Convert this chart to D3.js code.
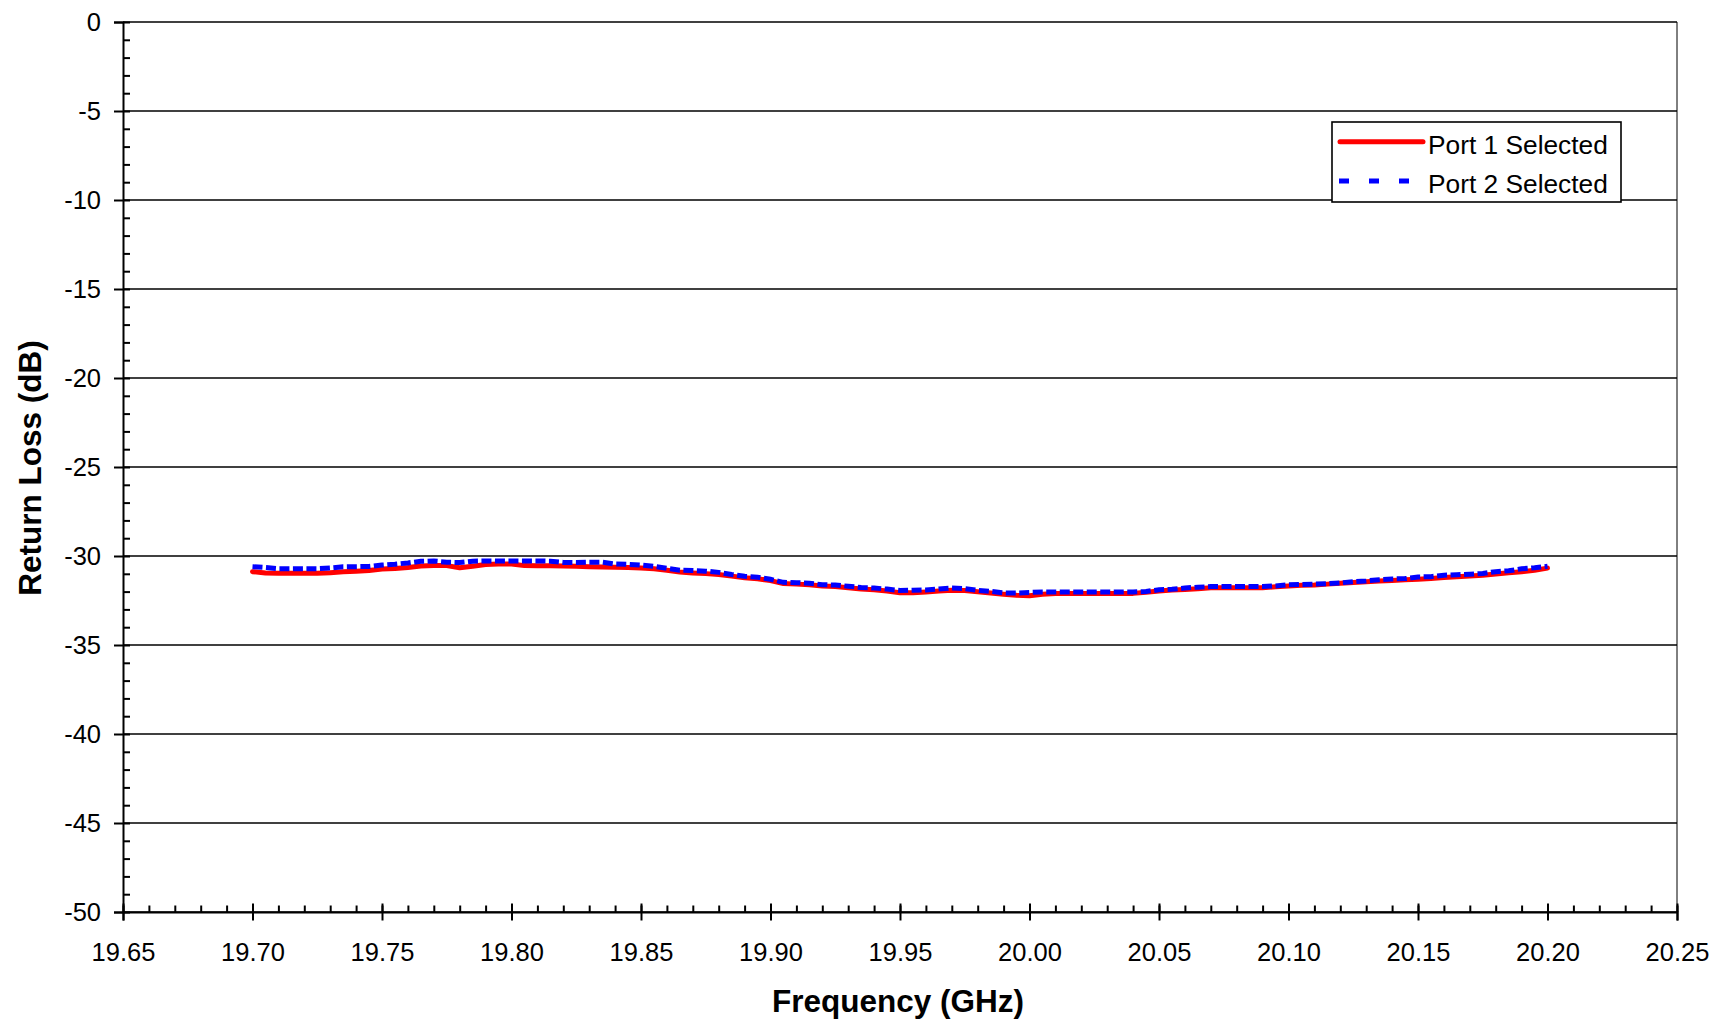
<!DOCTYPE html>
<html>
<head>
<meta charset="utf-8">
<script src="https://cdn.jsdelivr.net/npm/d3@7"></script>
<style>
  body { margin: 0; background: #fff; }
  svg { display: block; font-family: Arial, "Liberation Sans", sans-serif; }
</style>
</head>
<body>
<div id="chart"></div>
<script>
"use strict";

// == DATA ==
var freq = [19.700, 19.705, 19.710, 19.715, 19.720, 19.725, 19.730, 19.735, 19.740, 19.745,
            19.750, 19.755, 19.760, 19.765, 19.770, 19.775, 19.780, 19.785, 19.790, 19.795,
            19.800, 19.805, 19.810, 19.815, 19.820, 19.825, 19.830, 19.835, 19.840, 19.845,
            19.850, 19.855, 19.860, 19.865, 19.870, 19.875, 19.880, 19.885, 19.890, 19.895,
            19.900, 19.905, 19.910, 19.915, 19.920, 19.925, 19.930, 19.935, 19.940, 19.945,
            19.950, 19.955, 19.960, 19.965, 19.970, 19.975, 19.980, 19.985, 19.990, 19.995,
            20.000, 20.005, 20.010, 20.015, 20.020, 20.025, 20.030, 20.035, 20.040, 20.045,
            20.050, 20.055, 20.060, 20.065, 20.070, 20.075, 20.080, 20.085, 20.090, 20.095,
            20.100, 20.105, 20.110, 20.115, 20.120, 20.125, 20.130, 20.135, 20.140, 20.145,
            20.150, 20.155, 20.160, 20.165, 20.170, 20.175, 20.180, 20.185, 20.190, 20.195,
            20.200];

var port1 = [-30.88, -30.95, -30.97, -30.97, -30.97, -30.97, -30.94, -30.88, -30.85, -30.82,
             -30.73, -30.70, -30.64, -30.56, -30.54, -30.54, -30.66, -30.57, -30.48, -30.45,
             -30.45, -30.54, -30.55, -30.55, -30.56, -30.58, -30.60, -30.62, -30.63, -30.64,
             -30.67, -30.72, -30.80, -30.90, -30.95, -30.99, -31.04, -31.13, -31.22, -31.28,
             -31.38, -31.55, -31.58, -31.62, -31.68, -31.72, -31.78, -31.85, -31.90, -31.97,
             -32.06, -32.07, -32.02, -31.96, -31.92, -31.94, -32.01, -32.08, -32.15, -32.21,
             -32.23, -32.15, -32.11, -32.11, -32.11, -32.11, -32.11, -32.11, -32.10, -32.04,
             -31.97, -31.91, -31.88, -31.84, -31.78, -31.78, -31.78, -31.78, -31.78, -31.73,
             -31.68, -31.65, -31.63, -31.58, -31.53, -31.49, -31.45, -31.40, -31.37, -31.34,
             -31.30, -31.26, -31.21, -31.17, -31.12, -31.08, -31.01, -30.94, -30.88, -30.80,
             -30.68];

var port2 = [-30.60, -30.65, -30.71, -30.71, -30.71, -30.71, -30.67, -30.61, -30.60, -30.59,
             -30.51, -30.46, -30.39, -30.30, -30.28, -30.35, -30.37, -30.29, -30.28, -30.28,
             -30.28, -30.28, -30.28, -30.29, -30.36, -30.37, -30.35, -30.35, -30.45, -30.47,
             -30.51, -30.58, -30.69, -30.80, -30.82, -30.85, -30.92, -31.04, -31.14, -31.19,
             -31.31, -31.48, -31.50, -31.53, -31.61, -31.63, -31.70, -31.77, -31.80, -31.86,
             -31.94, -31.92, -31.91, -31.85, -31.80, -31.83, -31.93, -31.99, -32.07, -32.08,
             -32.05, -32.02, -32.02, -32.02, -32.02, -32.02, -32.02, -32.02, -32.02, -31.99,
             -31.90, -31.87, -31.80, -31.75, -31.72, -31.72, -31.72, -31.72, -31.72, -31.68,
             -31.62, -31.60, -31.58, -31.55, -31.51, -31.44, -31.40, -31.33, -31.29, -31.27,
             -31.18, -31.16, -31.08, -31.05, -31.02, -30.98, -30.88, -30.83, -30.72, -30.66,
             -30.58];

var seriesNames = ["Port 1 Selected", "Port 2 Selected"];
var xTicks = [19.65, 19.70, 19.75, 19.80, 19.85, 19.90, 19.95, 20.00, 20.05, 20.10, 20.15, 20.20, 20.25];
var yTicks = [0, -5, -10, -15, -20, -25, -30, -35, -40, -45, -50];

// == BOILERPLATE ==
var W = 1713, H = 1020;
var margin = { top: 22, right: 36, bottom: 108, left: 123 },
    width = W - margin.left - margin.right,
    height = H - margin.top - margin.bottom;

var svg = d3.select("#chart")
            .append("svg")
            .attr("width", W)
            .attr("height", H);

var g = svg.append("g")
           .attr("transform", "translate(" + margin.left + "," + margin.top + ")");

var x = d3.scaleLinear().domain([19.65, 20.25]).range([0, width]);
var y = d3.scaleLinear().domain([-50, 0]).range([height, 0]);

// gridlines at the major y ticks
g.selectAll(".grid")
 .data(yTicks)
 .enter()
 .append("line")
 .attr("x1", 0)
 .attr("x2", width)
 .attr("y1", function(d){ return y(d); })
 .attr("y2", function(d){ return y(d); })
 .attr("stroke", "#000")
 .attr("stroke-width", 1.4);

// right border
g.append("line")
 .attr("x1", width).attr("x2", width)
 .attr("y1", 0).attr("y2", height)
 .attr("stroke", "#000")
 .attr("stroke-width", 1);

// minor ticks: every 1 dB inside, every 0.01 GHz inside
var yMinor = d3.range(-50, 0.5, 1);
var xMinor = d3.range(0, 61).map(function(i){ return 19.65 + i * 0.01; });

var yMinorAxis = d3.axisRight(y).tickValues(yMinor).tickSize(7).tickFormat("");
var xMinorAxis = d3.axisTop(x).tickValues(xMinor).tickSize(6.5).tickFormat("");

g.append("g").attr("class", "minor").call(yMinorAxis);
g.append("g").attr("class", "minor").attr("transform", "translate(0," + height + ")").call(xMinorAxis);

// major axes
var yAxis = d3.axisLeft(y).tickValues(yTicks).tickSize(9).tickPadding(13)
              .tickFormat(function(d){ return d3.format("d")(d).replace("\u2212", "-"); });
var xAxis = d3.axisBottom(x).tickValues(xTicks).tickSize(8.5).tickPadding(22)
              .tickFormat(d3.format(".2f"));

var gy = g.append("g").call(yAxis);
var gx = g.append("g").attr("transform", "translate(0," + height + ")").call(xAxis);

// major x ticks cross the axis
gx.selectAll(".tick line").attr("y1", -8.5);

svg.selectAll(".domain").attr("stroke", "#000").attr("stroke-width", 2);
svg.selectAll(".minor .domain").remove();
svg.selectAll(".tick line").attr("stroke", "#000").attr("stroke-width", 2);
svg.selectAll(".tick text")
   .attr("fill", "#000")
   .style("font-size", "25.5px")
   .style("font-family", "Arial, 'Liberation Sans', sans-serif");

// == LINES ==
var line1 = d3.line()
              .x(function(d, i){ return x(freq[i]); })
              .y(function(d){ return y(d); });

g.append("path")
 .datum(port1)
 .attr("d", line1)
 .attr("fill", "none")
 .attr("stroke", "#ff0000")
 .attr("stroke-width", 5)
 .attr("stroke-linejoin", "round")
 .attr("stroke-linecap", "round");

g.append("path")
 .datum(port2)
 .attr("d", line1)
 .attr("fill", "none")
 .attr("stroke", "#0000ff")
 .attr("stroke-width", 5)
 .attr("stroke-dasharray", "10,3.5")
 .attr("stroke-linejoin", "miter");

// == AXIS TITLES ==
svg.append("text")
   .attr("x", margin.left + width / 2 - 2)
   .attr("y", 1012)
   .attr("text-anchor", "middle")
   .style("font-size", "31.5px")
   .style("font-weight", "bold")
   .text("Frequency (GHz)");

svg.append("text")
   .attr("transform", "translate(41," + (margin.top + height / 2 + 1) + ") rotate(-90)")
   .attr("text-anchor", "middle")
   .style("font-size", "31.5px")
   .style("font-weight", "bold")
   .text("Return Loss (dB)");

// == LEGEND ==
var legend = svg.append("g").attr("transform", "translate(1332,122)");
legend.append("rect")
      .attr("width", 289)
      .attr("height", 80)
      .attr("fill", "#fff")
      .attr("stroke", "#000")
      .attr("stroke-width", 1.6);

legend.append("line")
      .attr("x1", 8).attr("x2", 91)
      .attr("y1", 19.7).attr("y2", 19.7)
      .attr("stroke", "#ff0000")
      .attr("stroke-width", 5)
      .attr("stroke-linecap", "round");

legend.append("line")
      .attr("x1", 7).attr("x2", 77)
      .attr("y1", 59).attr("y2", 59)
      .attr("stroke", "#0000ff")
      .attr("stroke-width", 5)
      .attr("stroke-dasharray", "10,20");

legend.selectAll(".ltext")
      .data(seriesNames)
      .enter()
      .append("text")
      .attr("x", 96)
      .attr("y", function(d, i){ return 32 + i * 38.5; })
      .style("font-size", "26.3px")
      .text(function(d){ return d; });
</script>
</body>
</html>
